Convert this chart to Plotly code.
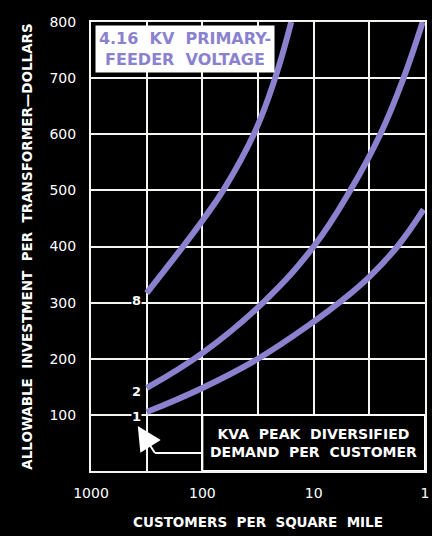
import math
import plotly.graph_objects as go

# ---- data ----
curve8_x = [316, 100, 62.7, 33.6, 22.2, 15.9]
curve8_y = [317, 446, 505, 605, 700, 800]
curve2_x = [316, 100, 28.5, 10, 4.69, 2.52, 1.56, 1.05]
curve2_y = [148, 210, 300, 400, 500, 600, 700, 800]
curve1_x = [316, 100, 31.6, 10, 5.9, 3.16, 1.77, 1.03]
curve1_y = [105, 148, 200, 266, 300, 346, 400, 466]
curve_labels = ["8", "2", "1"]
label_y = [303, 141, 98]

x_tickvals = [1000, 316.2, 100, 31.62, 10, 3.162, 1]
x_ticktext = ["1000", "", "100", "", "10", "", "1"]
y_tickvals = [100, 200, 300, 400, 500, 600, 700, 800]

PURPLE = "#8b82cf"
FONT = "DejaVu Sans"

fig = go.Figure()
for xs, ys in [(curve8_x, curve8_y), (curve2_x, curve2_y), (curve1_x, curve1_y)]:
    fig.add_trace(go.Scatter(x=xs, y=ys, mode="lines",
                             line=dict(color=PURPLE, width=6, shape="spline", smoothing=1.2),
                             showlegend=False, hoverinfo="skip", cliponaxis=True))

# curve start labels
for lab, ly in zip(curve_labels, label_y):
    fig.add_annotation(x=math.log10(316), y=ly, text=f"<b>{lab}</b>", showarrow=False,
                       xanchor="right", yanchor="middle", xshift=-5,
                       font=dict(family=FONT, size=13, color="white"), bgcolor="black",
                       borderpad=0)

# KVA box
fig.add_shape(type="rect", x0=100, x1=1, y0=0, y1=100, xref="x", yref="y",
              fillcolor="black", line=dict(color="white", width=2), layer="above")
fig.add_annotation(x=math.log10(10), y=50, xref="x", yref="y",
                   text="<b>KVA  PEAK  DIVERSIFIED<br>DEMAND  PER  CUSTOMER</b>",
                   showarrow=False, font=dict(family=FONT, size=14, color="white"),
                   align="center")
# pointer arrow
fig.add_shape(type="line", x0=100, x1=266, y0=32, y1=32, xref="x", yref="y",
              line=dict(color="white", width=2), layer="above")
fig.add_shape(type="line", x0=266, x1=301, y0=32, y1=48, xref="x", yref="y",
              line=dict(color="white", width=2), layer="above")
fig.add_annotation(x=math.log10(380), y=80, ax=math.log10(301), ay=48,
                   xref="x", yref="y", axref="x", ayref="y", text="",
                   showarrow=True, arrowhead=2, arrowsize=2.4, arrowwidth=2,
                   arrowcolor="white")

# title box
fig.add_annotation(xref="paper", yref="paper", x=0.012, y=0.993, xanchor="left", yanchor="top",
                   text="<b>4.16  KV  PRIMARY-<br>FEEDER  VOLTAGE</b>", showarrow=False,
                   font=dict(family=FONT, size=16, color=PURPLE), bgcolor="white",
                   width=176, height=44, align="center", borderpad=1)

fig.update_xaxes(type="log", range=[3, 0], tickvals=x_tickvals, ticktext=x_ticktext,
                 showgrid=True, gridcolor="#f4f4f0", gridwidth=2,
                 showline=True, linecolor="#f4f4f0", linewidth=2, mirror=True,
                 zeroline=False, ticks="outside", ticklen=8, tickcolor="black",
                 automargin=False,
                 tickfont=dict(family=FONT, size=14, color="white"),
                 title=dict(text="<b>CUSTOMERS  PER  SQUARE  MILE</b>", standoff=18,
                            font=dict(family=FONT, size=13.5, color="white")))
fig.update_yaxes(range=[0, 800], tickvals=y_tickvals,
                 showgrid=True, gridcolor="#f4f4f0", gridwidth=2,
                 showline=True, linecolor="#f4f4f0", linewidth=2, mirror=True,
                 zeroline=False, ticks="outside", ticklen=10, tickcolor="black",
                 automargin=False,
                 tickfont=dict(family=FONT, size=14, color="white"),
                 title=dict(text="<b>ALLOWABLE  INVESTMENT  PER  TRANSFORMER—DOLLARS</b>",
                            standoff=14, font=dict(family=FONT, size=13.5, color="white")))

fig.update_layout(width=432, height=536, paper_bgcolor="black", plot_bgcolor="black",
                  margin=dict(l=91, r=7, t=22, b=65), showlegend=False)

fig.write_html("out.html", config={"displayModeBar": False},
               post_script="document.body.style.margin='0';document.body.style.background='black';")
